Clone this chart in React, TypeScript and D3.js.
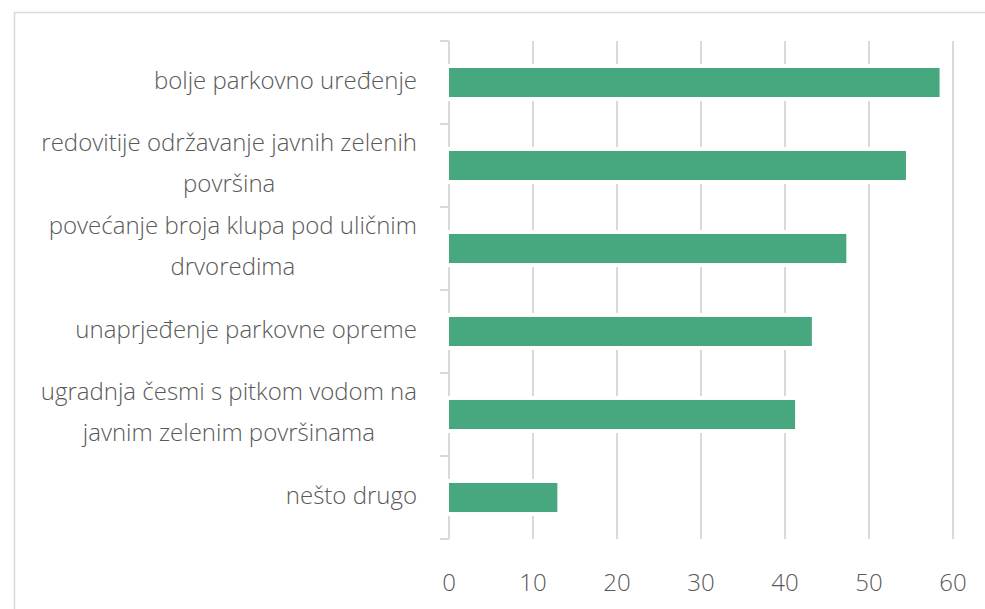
import React, { useRef, useEffect } from 'react';
import * as d3 from 'd3';

const categories = [
  ['bolje parkovno uređenje'],
  ['redovitije održavanje javnih zelenih', 'površina'],
  ['povećanje broja klupa pod uličnim', 'drvoredima'],
  ['unaprjeđenje parkovne opreme'],
  ['ugradnja česmi s pitkom vodom na', 'javnim zelenim površinama'],
  ['nešto drugo'],
];
const values = [58.4, 54.4, 47.3, 43.2, 41.2, 12.9];
const xTicks = [0, 10, 20, 30, 40, 50, 60];

function App() {
  const ref = useRef<SVGSVGElement | null>(null);

  useEffect(() => {
    const width = 985;
    const height = 609;
    const left = 449;
    const right = 953;
    const top = 41;
    const bottom = 539;

    const svg = d3.select(ref.current);
    svg.selectAll('*').remove();

    const x = d3.scaleLinear().domain([0, 60]).range([left, right]);
    const y = d3.scaleBand<number>()
      .domain(d3.range(categories.length))
      .range([top, bottom])
      .paddingInner(0.65)
      .paddingOuter(0.325);

    // frame
    svg.append('path')
      .attr('d', `M14.5,${height} V12.5 H${width}`)
      .attr('fill', 'none')
      .attr('stroke', '#d9d9d9')
      .attr('stroke-width', 1.5);

    // gridlines
    svg.append('g')
      .selectAll('line')
      .data(xTicks.slice(1))
      .enter()
      .append('line')
      .attr('x1', d => x(d))
      .attr('x2', d => x(d))
      .attr('y1', top)
      .attr('y2', bottom)
      .attr('stroke', '#d9d9d9')
      .attr('stroke-width', 2);

    // category axis
    const band = (bottom - top) / categories.length;
    svg.append('line')
      .attr('x1', left).attr('x2', left)
      .attr('y1', top).attr('y2', bottom)
      .attr('stroke', '#d9d9d9').attr('stroke-width', 2);
    svg.append('g')
      .selectAll('line')
      .data(d3.range(categories.length + 1))
      .enter()
      .append('line')
      .attr('x1', left - 9).attr('x2', left)
      .attr('y1', d => top + d * band)
      .attr('y2', d => top + d * band)
      .attr('stroke', '#d9d9d9').attr('stroke-width', 2);

    // bars: white halo first so gridlines break around them
    const bars = svg.append('g');
    bars.selectAll('rect.halo')
      .data(values)
      .enter()
      .append('rect')
      .attr('class', 'halo')
      .attr('x', x(0) + 2)
      .attr('y', (d, i) => y(i)!)
      .attr('width', d => x(d) - x(0) - 2)
      .attr('height', y.bandwidth())
      .attr('fill', '#ffffff')
      .attr('stroke', '#ffffff')
      .attr('stroke-width', 8);
    bars.selectAll('rect.bar')
      .data(values)
      .enter()
      .append('rect')
      .attr('class', 'bar')
      .attr('x', x(0))
      .attr('y', (d, i) => y(i)!)
      .attr('width', d => x(d) - x(0))
      .attr('height', y.bandwidth())
      .attr('fill', '#47a77e');

    // category labels
    const labelRight = 417;
    const lineH = 41;
    categories.forEach((lines, i) => {
      const cy = y(i)! + y.bandwidth() / 2;
      const g = svg.append('g');
      const texts = lines.map((t, j) =>
        g.append('text')
          .attr('y', cy + (j - (lines.length - 1) / 2) * lineH)
          .attr('dy', '0.25em')
          .attr('text-anchor', 'middle')
          .attr('font-family', '"Open Sans", sans-serif')
          .attr('font-weight', 300)
          .attr('font-size', 24)
          .attr('fill', '#595959')
          .text(t)
      );
      const w = d3.max(texts, t => (t.node() as SVGTextElement).getComputedTextLength()) || 0;
      texts.forEach(t => t.attr('x', labelRight - w / 2));
    });

    // value axis labels
    svg.append('g')
      .selectAll('text')
      .data(xTicks)
      .enter()
      .append('text')
      .attr('x', d => x(d))
      .attr('y', 591)
      .attr('text-anchor', 'middle')
      .attr('font-family', '"Open Sans", sans-serif')
      .attr('font-weight', 300)
      .attr('font-size', 24)
      .attr('fill', '#595959')
      .text(d => d);
  }, []);

  return (
    <svg
      ref={ref}
      width={985}
      height={609}
      style={{ position: 'absolute', left: 0, top: 0, background: '#fff' }}
    />
  );
}

export default App;
